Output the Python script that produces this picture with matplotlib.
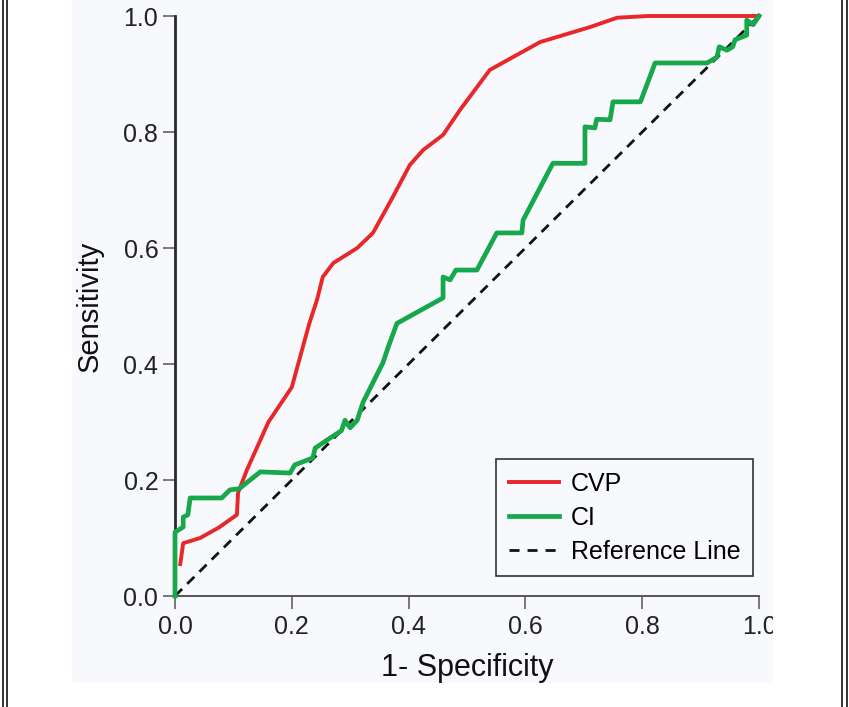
import matplotlib
matplotlib.use("Agg")
import matplotlib.pyplot as plt
from matplotlib.patches import Rectangle
from matplotlib.lines import Line2D

plt.rcParams['font.family'] = ['Liberation Sans', 'DejaVu Sans']

# ROC curve points
cvp_fpr = [0.009, 0.014, 0.043, 0.075, 0.106, 0.108, 0.123, 0.16, 0.2, 0.23, 0.243,
           0.253, 0.271, 0.312, 0.339, 0.373, 0.402, 0.425, 0.459, 0.488, 0.539,
           0.625, 0.711, 0.757, 0.81, 1.0]
cvp_tpr = [0.055, 0.091, 0.10, 0.118, 0.14, 0.178, 0.217, 0.30, 0.36, 0.47, 0.51,
           0.55, 0.574, 0.60, 0.626, 0.688, 0.743, 0.769, 0.795, 0.838, 0.907,
           0.955, 0.981, 0.997, 1.0, 1.0]

ci_fpr = [0.0, 0.0, 0.014, 0.014, 0.022, 0.026, 0.080, 0.094, 0.11, 0.146, 0.197,
          0.205, 0.236, 0.240, 0.265, 0.285, 0.291, 0.300, 0.312, 0.322, 0.356,
          0.365, 0.380, 0.459, 0.459, 0.471, 0.481, 0.517, 0.551, 0.594, 0.596,
          0.647, 0.702, 0.702, 0.719, 0.722, 0.745, 0.750, 0.797, 0.822, 0.911,
          0.928, 0.932, 0.945, 0.955, 0.959, 0.979, 0.979, 0.99, 1.0]
ci_tpr = [0.0, 0.11, 0.119, 0.136, 0.14, 0.169, 0.169, 0.183, 0.185, 0.214, 0.212,
          0.226, 0.238, 0.255, 0.272, 0.285, 0.303, 0.290, 0.303, 0.334, 0.402,
          0.429, 0.470, 0.514, 0.550, 0.545, 0.562, 0.562, 0.626, 0.626, 0.648,
          0.746, 0.746, 0.809, 0.807, 0.822, 0.821, 0.852, 0.852, 0.919, 0.919,
          0.929, 0.947, 0.941, 0.947, 0.959, 0.967, 0.993, 0.985, 1.0]

ref = [0.0, 1.0]
ticks = [0.0, 0.2, 0.4, 0.6, 0.8, 1.0]
tick_labels = ['0.0', '0.2', '0.4', '0.6', '0.8', '1.0']

fig = plt.figure(figsize=(8.49, 7.07), dpi=100)
fig.patch.set_facecolor('white')

# light scanned-page background and the double rules at the sides
bg = '#f8f9fd'
fig.add_artist(Rectangle((72 / 849, 1 - 683 / 707), (773 - 72) / 849, 683 / 707,
                         transform=fig.transFigure, facecolor=bg, edgecolor='none', zorder=-5))
for xp in [3, 7, 842, 847]:
    fig.add_artist(Line2D([xp / 849, xp / 849], [0, 1], transform=fig.transFigure,
                          color='#222222', lw=1.3, zorder=6))

ax = fig.add_axes([175 / 849, 1 - 596 / 707, 584 / 849, 580 / 707])
ax.set_facecolor('none')

ax.plot(cvp_fpr, cvp_tpr, color='#e8272b', lw=2.8, label='CVP', clip_on=False, zorder=3)
ax.plot(ci_fpr, ci_tpr, color='#16a84a', lw=3.4, label='CI', clip_on=False, zorder=4)
ax.plot(ref, ref, color='#111111', lw=2.0, ls=(0, (3.6, 2.6)), label='Reference Line',
        clip_on=False, zorder=2)

ax.set_xlim(0, 1)
ax.set_ylim(0, 1)
ax.set_xticks(ticks)
ax.set_xticklabels(tick_labels)
ax.set_yticks(ticks)
ax.set_yticklabels(tick_labels)

for s in ['top', 'right']:
    ax.spines[s].set_visible(False)
ax.spines['left'].set_color('#2a2a2a')
ax.spines['left'].set_linewidth(2.0)
ax.spines['bottom'].set_color('#555555')
ax.spines['bottom'].set_linewidth(1.4)

ax.tick_params(axis='both', direction='out', length=9, width=1.1, color='#555555',
               labelsize=18, labelcolor='#222222')
ax.tick_params(axis='y', pad=3)
ax.tick_params(axis='x', pad=5)

ax.set_xlabel('1- Specificity', fontsize=22, color='#111111', labelpad=10)
ax.set_ylabel('Sensitivity', fontsize=21, color='#111111', labelpad=14)

leg = ax.legend(loc='lower right', bbox_to_anchor=(0.99, 0.034), borderaxespad=0,
                fontsize=18, frameon=True, fancybox=False, handlelength=2.0,
                handletextpad=0.5, labelspacing=0.4, borderpad=0.5)
leg.get_frame().set_edgecolor('#333333')
leg.get_frame().set_linewidth(1.2)
leg.get_frame().set_facecolor(bg)
leg.get_frame().set_alpha(1)
leg.legend_handles[2].set_dashes((3.6, 2.9))

# the scan cuts the last tick label off at the page edge
fig.add_artist(Rectangle((773 / 849, 0), 60 / 849, 0.2, transform=fig.transFigure,
                         facecolor='white', edgecolor='none', zorder=5))

fig.savefig('out.png', dpi=100)
